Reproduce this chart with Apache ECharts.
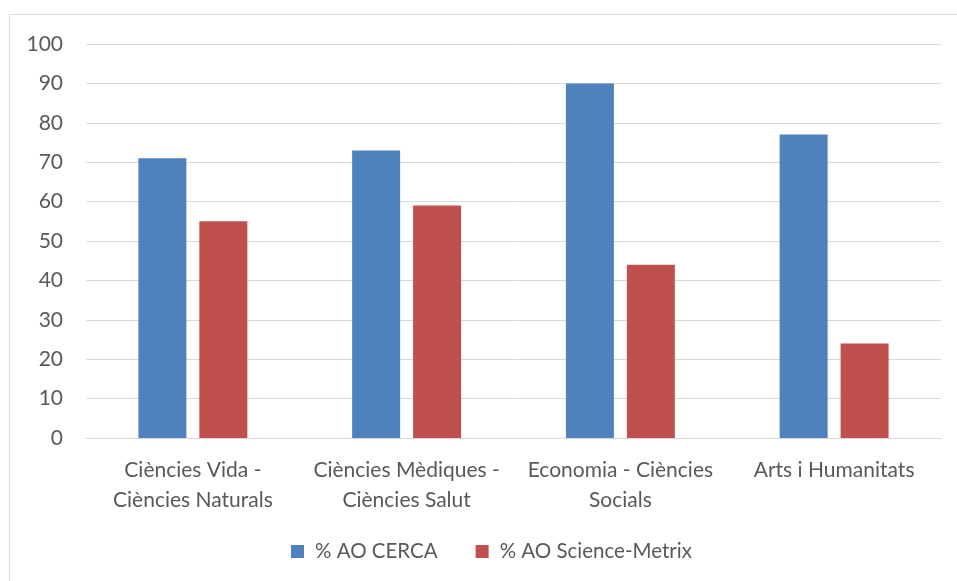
<!DOCTYPE html>
<html>
<head>
<meta charset="utf-8">
<script src="https://cdn.jsdelivr.net/npm/echarts@6/dist/echarts.min.js"></script>
<style>
  html, body { margin: 0; padding: 0; background: #fff; }
  #chart { width: 957px; height: 581px; }
</style>
</head>
<body>
<div id="chart"></div>
<script>
// dades
const categories = [
  "Ciències Vida -\nCiències Naturals",
  "Ciències Mèdiques -\nCiències Salut",
  "Economia - Ciències\nSocials",
  "Arts i Humanitats"
];
const cercaValues = [71, 73, 90, 77];
const metrixValues = [55, 59, 44, 24];
const seriesNames = ["% AO CERCA", "% AO Science-Metrix"];

const font = "Lato, 'Open Sans', sans-serif";

const chart = echarts.init(document.getElementById("chart"));
chart.setOption({
  animation: false,
  color: ["#4f81bd", "#c0504d"],
  graphic: [
    {
      type: "rect",
      shape: { x: 9.5, y: 14.5, width: 980, height: 600 },
      style: { fill: "none", stroke: "#d9d9d9", lineWidth: 1 },
      silent: true
    }
  ],
  grid: { left: 86, right: 16, top: 44, bottom: 143 },
  legend: {
    bottom: 14,
    left: 286,
    itemWidth: 13,
    itemHeight: 13,
    itemGap: 38,
    icon: "rect",
    textStyle: {
      color: "#595959",
      fontSize: 20.5,
      fontFamily: font,
      padding: [0, 0, 0, 6]
    },
    data: seriesNames
  },
  xAxis: {
    type: "category",
    data: categories,
    axisLine: { lineStyle: { color: "#d9d9d9", width: 1 } },
    axisTick: { show: false },
    axisLabel: {
      interval: 0,
      color: "#595959",
      fontSize: 21,
      fontFamily: font,
      lineHeight: 30,
      margin: 17
    }
  },
  yAxis: {
    type: "value",
    min: 0,
    max: 100,
    interval: 10,
    axisLine: { show: false },
    axisTick: { show: false },
    splitLine: { lineStyle: { color: "#d9d9d9", width: 1 } },
    axisLabel: { color: "#595959", fontSize: 21, fontFamily: font, margin: 23 }
  },
  series: [
    {
      name: seriesNames[0],
      type: "bar",
      data: cercaValues,
      barWidth: 48,
      barGap: "27%"
    },
    {
      name: seriesNames[1],
      type: "bar",
      data: metrixValues,
      barWidth: 48,
      barGap: "27%"
    }
  ]
});
</script>
</body>
</html>
